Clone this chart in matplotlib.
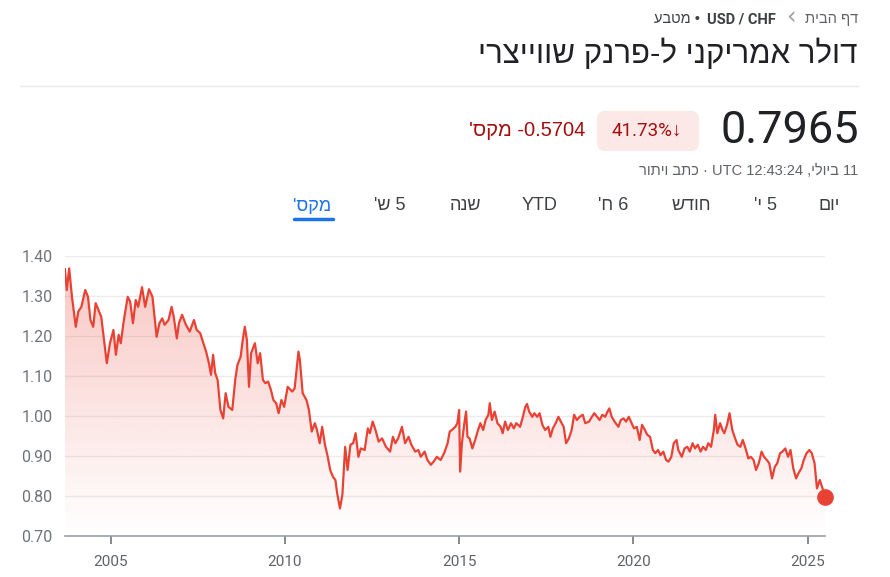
import numpy as np
import matplotlib
matplotlib.use("Agg")
import matplotlib.pyplot as plt
from matplotlib.transforms import Affine2D
from matplotlib.patches import FancyBboxPatch
from matplotlib.colors import to_rgb

# ---------------- data ----------------
years = [2003.69, 2003.74, 2003.81, 2003.89, 2004.00, 2004.07, 2004.16, 2004.27, 2004.35, 2004.42,
         2004.50, 2004.57, 2004.65, 2004.73, 2004.80, 2004.89, 2004.98, 2005.08, 2005.15, 2005.23,
         2005.29, 2005.38, 2005.49, 2005.56, 2005.64, 2005.72, 2005.79, 2005.90, 2005.99, 2006.10,
         2006.20, 2006.32, 2006.40, 2006.48, 2006.55, 2006.66, 2006.75, 2006.81, 2006.90, 2006.96,
         2007.05, 2007.16, 2007.27, 2007.39, 2007.47, 2007.57, 2007.66, 2007.74, 2007.82, 2007.88,
         2007.94, 2008.00, 2008.07, 2008.15, 2008.23, 2008.30, 2008.38, 2008.49, 2008.58, 2008.64,
         2008.73, 2008.79, 2008.85, 2008.91, 2008.97, 2009.03, 2009.14, 2009.22, 2009.29, 2009.37,
         2009.44, 2009.52, 2009.60, 2009.67, 2009.75, 2009.82, 2009.90, 2009.98, 2010.08, 2010.21,
         2010.28, 2010.39, 2010.43, 2010.51, 2010.62, 2010.69, 2010.77, 2010.86, 2010.92, 2011.00,
         2011.07, 2011.15, 2011.23, 2011.30, 2011.38, 2011.45, 2011.50, 2011.58, 2011.65, 2011.73,
         2011.80, 2011.88, 2011.96, 2012.03, 2012.11, 2012.18, 2012.29, 2012.38, 2012.44, 2012.52,
         2012.60, 2012.69, 2012.79, 2012.90, 2013.02, 2013.10, 2013.17, 2013.25, 2013.36, 2013.45,
         2013.55, 2013.63, 2013.74, 2013.83, 2013.90, 2014.01, 2014.09, 2014.19, 2014.27, 2014.36,
         2014.47, 2014.57, 2014.67, 2014.73, 2014.82, 2014.89, 2014.95, 2015.00, 2015.03, 2015.08,
         2015.15, 2015.20, 2015.24, 2015.30, 2015.38, 2015.46, 2015.53, 2015.61, 2015.69, 2015.76,
         2015.84, 2015.88, 2015.94, 2016.02, 2016.10, 2016.19, 2016.25, 2016.32, 2016.40, 2016.49,
         2016.57, 2016.64, 2016.75, 2016.83, 2016.90, 2016.95, 2017.01, 2017.10, 2017.16, 2017.24,
         2017.31, 2017.39, 2017.47, 2017.56, 2017.62, 2017.69, 2017.77, 2017.85, 2017.92, 2018.00,
         2018.07, 2018.15, 2018.23, 2018.30, 2018.38, 2018.46, 2018.55, 2018.62, 2018.73, 2018.81,
         2018.88, 2018.96, 2019.03, 2019.11, 2019.19, 2019.26, 2019.31, 2019.38, 2019.46, 2019.57,
         2019.64, 2019.72, 2019.79, 2019.87, 2019.95, 2020.02, 2020.10, 2020.18, 2020.25, 2020.33,
         2020.40, 2020.48, 2020.56, 2020.63, 2020.71, 2020.78, 2020.86, 2020.94, 2021.01, 2021.09,
         2021.16, 2021.24, 2021.29, 2021.39, 2021.47, 2021.55, 2021.62, 2021.70, 2021.77, 2021.85,
         2021.93, 2022.00, 2022.08, 2022.15, 2022.23, 2022.31, 2022.35, 2022.41, 2022.49, 2022.56,
         2022.61, 2022.69, 2022.76, 2022.84, 2022.92, 2022.99, 2023.07, 2023.14, 2023.22, 2023.30,
         2023.37, 2023.45, 2023.52, 2023.60, 2023.68, 2023.75, 2023.83, 2023.90, 2023.98, 2024.06,
         2024.13, 2024.21, 2024.28, 2024.36, 2024.44, 2024.51, 2024.59, 2024.67, 2024.74, 2024.82,
         2024.89, 2024.97, 2025.05, 2025.12, 2025.20, 2025.27, 2025.35, 2025.43, 2025.50]

rates = [1.367, 1.315, 1.369, 1.298, 1.223, 1.261, 1.273, 1.315, 1.298, 1.240,
         1.223, 1.282, 1.265, 1.248, 1.198, 1.132, 1.182, 1.215, 1.153, 1.203,
         1.182, 1.240, 1.298, 1.286, 1.232, 1.290, 1.273, 1.322, 1.273, 1.317,
         1.298, 1.198, 1.232, 1.244, 1.228, 1.240, 1.273, 1.248, 1.194, 1.232,
         1.253, 1.228, 1.211, 1.240, 1.215, 1.207, 1.182, 1.161, 1.132, 1.103,
         1.153, 1.107, 1.090, 1.015, 0.994, 1.057, 1.023, 1.015, 1.094, 1.128,
         1.148, 1.190, 1.223, 1.190, 1.073, 1.157, 1.182, 1.132, 1.157, 1.090,
         1.082, 1.086, 1.065, 1.040, 1.032, 1.007, 1.040, 1.023, 1.073, 1.061,
         1.069, 1.161, 1.140, 1.057, 1.040, 1.015, 0.961, 0.982, 0.965, 0.932,
         0.973, 0.928, 0.898, 0.865, 0.848, 0.840, 0.807, 0.769, 0.803, 0.923,
         0.865, 0.928, 0.932, 0.957, 0.898, 0.919, 0.915, 0.969, 0.957, 0.986,
         0.965, 0.936, 0.944, 0.923, 0.911, 0.948, 0.932, 0.944, 0.973, 0.932,
         0.948, 0.928, 0.911, 0.915, 0.898, 0.911, 0.890, 0.878, 0.886, 0.898,
         0.890, 0.907, 0.932, 0.961, 0.967, 0.973, 0.982, 1.015, 0.861, 0.932,
         0.982, 1.011, 0.948, 0.944, 0.919, 0.940, 0.961, 0.982, 0.965, 0.990,
         1.003, 1.032, 0.990, 1.011, 0.982, 0.973, 0.957, 0.986, 0.965, 0.982,
         0.969, 0.982, 0.973, 0.998, 1.023, 1.030, 1.011, 0.998, 1.007, 0.998,
         1.007, 0.978, 0.965, 0.973, 0.948, 0.969, 0.982, 0.998, 0.986, 0.973,
         0.932, 0.944, 0.965, 1.003, 0.990, 0.998, 1.003, 0.982, 0.986, 0.998,
         1.007, 0.998, 0.990, 1.003, 0.998, 1.011, 1.019, 0.998, 0.986, 0.973,
         0.990, 0.994, 0.986, 0.998, 0.982, 0.969, 0.973, 0.940, 0.978, 0.965,
         0.953, 0.948, 0.915, 0.907, 0.915, 0.902, 0.911, 0.890, 0.886, 0.898,
         0.932, 0.940, 0.915, 0.898, 0.919, 0.923, 0.911, 0.932, 0.919, 0.928,
         0.911, 0.923, 0.915, 0.932, 0.923, 0.965, 1.003, 0.957, 0.982, 0.965,
         0.957, 0.978, 1.007, 0.965, 0.944, 0.928, 0.923, 0.940, 0.919, 0.894,
         0.898, 0.890, 0.865, 0.882, 0.911, 0.898, 0.890, 0.882, 0.844, 0.873,
         0.882, 0.907, 0.911, 0.919, 0.898, 0.915, 0.869, 0.844, 0.857, 0.869,
         0.890, 0.907, 0.915, 0.907, 0.882, 0.819, 0.840, 0.819, 0.7965]

y_ticks = [0.70, 0.80, 0.90, 1.00, 1.10, 1.20, 1.30, 1.40]
x_ticks = [2005, 2010, 2015, 2020, 2025]
x_tick_labels = ["2005", "2010", "2015", "2020", "2025"]

# Hebrew strings are stored in visual (left-to-right glyph) order,
# since matplotlib does not apply the bidi algorithm.
title_text = "ירצייווש קנרפ-ל ינקירמא רלוד"
crumb_home = "תיבה ףד"
crumb_kind = "עבטמ"
crumb_pair = "USD / CHF"
price_text = "0.7965"
pct_text = "41.73%↓"
change_text = "'סקמ -0.5704"
stamp_text = "רותיו בתכ · UTC 12:43:24 ,ילויב 11"
tab_labels = ["םוי", "'י 5", "שדוח", "'ח 6", "YTD", "הנש", "'ש 5", "'סקמ"]

# ---------------- figure ----------------
W, H = 890, 577
fig = plt.figure(figsize=(W / 100, H / 100), dpi=100)
fig.patch.set_facecolor("white")
PX = Affine2D().scale(1, -1).translate(0, H)  # top-left pixel coords

heb = ["Liberation Sans", "DejaVu Sans"]
num = ["Roboto", "Liberation Sans", "DejaVu Sans"]

DARK = "#202124"
GRAY = "#5f6368"
RED_T = "#a50e0e"

# breadcrumb
fig.text(858, 19, crumb_home, transform=PX, ha="right", va="center", fontsize=10.5,
         color=GRAY, family=heb)
fig.text(791, 18, "‹", transform=PX, ha="center", va="center", fontsize=17,
         color="#9aa0a6", family=["DejaVu Sans"])
fig.text(776, 19, crumb_pair, transform=PX, ha="right", va="center", fontsize=10.5,
         color="#3c4043", family=num, fontweight="bold")
fig.text(700, 19, crumb_kind + " •", transform=PX, ha="right", va="center", fontsize=10.5,
         color="#3c4043", family=heb)

# title
fig.text(858, 54, title_text, transform=PX, ha="right", va="center", fontsize=22.5,
         color=DARK, family=heb)

# divider
fig.add_artist(plt.Line2D([20, 858], [86, 86], transform=PX, color="#e8eaed", lw=1))

# price
fig.text(859, 131, price_text, transform=PX, ha="right", va="center", fontsize=32.5,
         color=DARK, family=num)

# badge
badge = FancyBboxPatch((597, 111), 102, 40, boxstyle="round,pad=0,rounding_size=8",
                       transform=PX, facecolor="#fce8e6", edgecolor="none")
fig.add_artist(badge)
fig.text(647, 131, pct_text, transform=PX, ha="center", va="center", fontsize=13.5,
         color=RED_T, family=num)
fig.text(585, 131, change_text, transform=PX, ha="right", va="center", fontsize=14.5,
         color=RED_T, family=heb)

# timestamp
fig.text(858, 171, stamp_text, transform=PX, ha="right", va="center", fontsize=10.5,
         color=GRAY, family=heb)

# tabs
tab_x = [829, 766, 691, 613, 540, 465, 390, 312]
for lab, tx in zip(tab_labels, tab_x):
    col = "#1a73e8" if lab == tab_labels[-1] else "#3c4043"
    fig.text(tx, 206, lab, transform=PX, ha="center", va="center", fontsize=13,
             color=col, family=heb)
fig.add_artist(plt.Line2D([294, 333], [219, 219], transform=PX, color="#1a73e8",
                          lw=2.5, solid_capstyle="round"))

# ---------------- chart ----------------
x = np.array(years)
y = np.array(rates)
x_left, x_right = x[0], x[-1]
ymin, ymax = 0.70, 1.40

ax = fig.add_axes([65 / W, 1 - 536 / H, (825 - 65) / W, (536 - 256) / H])
ax.set_xlim(x_left, x_right)
ax.set_ylim(ymin, ymax)
ax.set_facecolor("none")
for s in ["top", "right", "left"]:
    ax.spines[s].set_visible(False)
ax.spines["bottom"].set_color("#9aa0a6")
ax.spines["bottom"].set_linewidth(1.2)

for v in y_ticks[1:]:
    ax.axhline(v, color="#ececec", lw=1, zorder=0)

ax.set_yticks(y_ticks)
ax.set_yticklabels([f"{v:.2f}" for v in y_ticks])
ax.tick_params(axis="y", length=0, pad=9, labelsize=11.5, labelcolor="#70757a")
ax.set_xticks(x_ticks)
ax.set_xticklabels(x_tick_labels)
ax.tick_params(axis="x", length=6, width=1.2, color="#70757a", pad=8,
               labelsize=11, labelcolor="#5f6368")
for lab in ax.get_xticklabels() + ax.get_yticklabels():
    lab.set_family(["Liberation Sans Narrow", "Roboto", "DejaVu Sans"])

LINE = "#e94235"
# gradient fill under line
poly = ax.fill_between(x, y, ymin, color="none", lw=0)
path = poly.get_paths()[0]
n = 256
alpha = np.linspace(0.30, 0.0, n)
rgba = np.zeros((n, 1, 4))
rgba[..., :3] = to_rgb(LINE)
rgba[:, 0, 3] = alpha
im = ax.imshow(rgba, extent=[x_left, x_right, ymin, 1.38], aspect="auto",
               origin="upper", zorder=1, interpolation="bilinear")
im.set_clip_path(path, transform=ax.transData)

ax.plot(x, y, color=LINE, lw=1.6, zorder=3, solid_joinstyle="round")
ax.plot([x[-1]], [y[-1]], "o", color=LINE, ms=11, zorder=4, clip_on=False)

fig.savefig("out.png", dpi=100, facecolor="white")
